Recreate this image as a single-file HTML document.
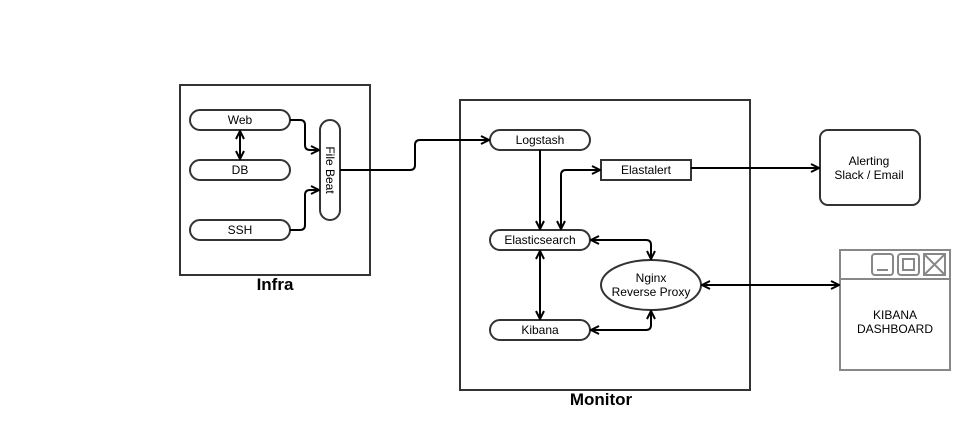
<!DOCTYPE html>
<html><head><style>body{margin:0;background:#fff}svg{display:block}text{font-family:"Liberation Sans",Arial,sans-serif}</style></head>
<body>
<svg width="970" height="430" viewBox="0 0 970 430" xmlns="http://www.w3.org/2000/svg">
<defs>
<marker id="a" viewBox="0 0 10 10" refX="9" refY="5" markerWidth="10" markerHeight="10" orient="auto-start-reverse" markerUnits="userSpaceOnUse"><path d="M1 1 L9 5 L1 9" fill="none" stroke="#000" stroke-width="2"/></marker>
</defs>
<g fill="none" stroke="#333" stroke-width="2">
<rect x="180" y="85" width="190" height="190"/>
<rect x="460" y="100" width="290" height="290"/>
<rect x="190" y="110" width="100" height="20" rx="10"/>
<rect x="190" y="160" width="100" height="20" rx="10"/>
<rect x="190" y="220" width="100" height="20" rx="10"/>
<rect x="320" y="120" width="20" height="100" rx="10"/>
<rect x="490" y="130" width="100" height="20" rx="10"/>
<rect x="490" y="230" width="100" height="20" rx="10"/>
<rect x="490" y="320" width="100" height="20" rx="10"/>
<rect x="601" y="160" width="90" height="20"/>
<ellipse cx="651" cy="285" rx="50" ry="25"/>
<rect x="820" y="130" width="100" height="75" rx="8"/>
</g>
<g fill="none" stroke="#888" stroke-width="2">
<rect x="840" y="250" width="110" height="120"/>
<line x1="840" y1="279" x2="950" y2="279"/>
<rect x="872" y="254" width="21" height="21" rx="3"/>
<line x1="877" y1="270" x2="888" y2="270"/>
<rect x="898" y="254" width="21" height="21" rx="3"/>
<rect x="903" y="259" width="11" height="11"/>
<rect x="924" y="254" width="21" height="21"/>
<path d="M924 254 L945 275 M945 254 L924 275"/>
</g>
<g fill="none" stroke="#000" stroke-width="2">
<path d="M290 120 H300 Q305 120 305 125 V145 Q305 150 310 150 H319" marker-end="url(#a)"/>
<path d="M290 230 H300 Q305 230 305 225 V195 Q305 190 310 190 H319" marker-end="url(#a)"/>
<path d="M240 131 V159" marker-start="url(#a)" marker-end="url(#a)"/>
<path d="M340 170 H410 Q415 170 415 165 V145 Q415 140 420 140 H489" marker-end="url(#a)"/>
<path d="M540 150 V229" marker-end="url(#a)"/>
<path d="M561 229 V175 Q561 170 566 170 H600" marker-start="url(#a)" marker-end="url(#a)"/>
<path d="M540 251 V319" marker-start="url(#a)" marker-end="url(#a)"/>
<path d="M591 240 H646 Q651 240 651 245 V259" marker-start="url(#a)" marker-end="url(#a)"/>
<path d="M591 330 H646 Q651 330 651 325 V311" marker-start="url(#a)" marker-end="url(#a)"/>
<path d="M691 168 H819" marker-end="url(#a)"/>
<path d="M702 285 H839" marker-start="url(#a)" marker-end="url(#a)"/>
</g>
<g font-size="12" fill="#000" text-anchor="middle">
<text x="240" y="124">Web</text>
<text x="240" y="174">DB</text>
<text x="240" y="234">SSH</text>
<text transform="translate(326 170) rotate(90)" y="0">File Beat</text>
<text x="540" y="144">Logstash</text>
<text x="540" y="244">Elasticsearch</text>
<text x="540" y="334">Kibana</text>
<text x="646" y="174">Elastalert</text>
<text x="651" y="282">Nginx</text>
<text x="651" y="296">Reverse Proxy</text>
<text x="869" y="165">Alerting</text>
<text x="869" y="179">Slack / Email</text>
<text x="895" y="319">KIBANA</text>
<text x="895" y="333">DASHBOARD</text>
<text x="275" y="290" font-size="17" font-weight="bold">Infra</text>
<text x="601" y="405" font-size="17" font-weight="bold">Monitor</text>
</g>
</svg>
</body></html>
